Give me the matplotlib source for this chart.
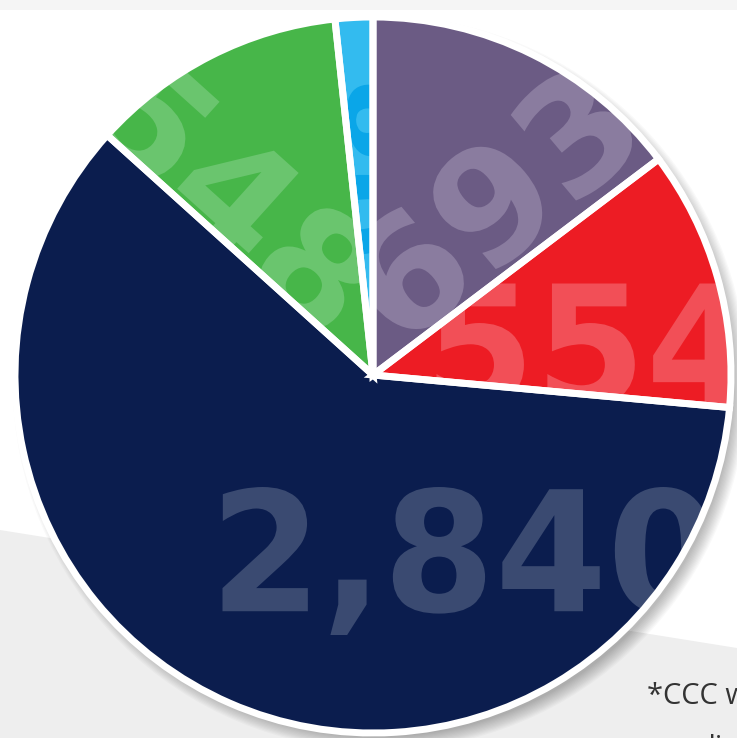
# Pie chart with big clipped numbers inside each slice
import matplotlib.pyplot as plt
from matplotlib.patches import Polygon, Circle, PathPatch, Wedge
from matplotlib.textpath import TextPath
from matplotlib.font_manager import FontProperties
from matplotlib.transforms import Affine2D

# data
labels = ["693", "554", "2,840", "548", "80"]
values = [693, 554, 2840, 548, 80]
colors = ["#6b5b84", "#ed1c24", "#0b1d4e", "#47b649", "#33bbef"]
text_colors = ["#8a7c9f", "#f24f57", "#3a4a71", "#6ac56e", "#0aa6e8"]

W, H = 737, 738
CX, CY, R = 373, 375, 358   # pie center / radius in pixels

fig = plt.figure(figsize=(W / 100, H / 100), dpi=100)
fig.patch.set_facecolor("white")

# light grey floor behind the pie
bg = fig.add_axes([0, 0, 1, 1])
bg.set_xlim(0, W)
bg.set_ylim(H, 0)
bg.axis("off")
bg.add_patch(Polygon([(0, 530), (737, 648), (737, 738), (0, 738)],
                     closed=True, color="#eeeeee", lw=0))
bg.add_patch(Polygon([(0, 0), (737, 0), (737, 10), (0, 10)],
                     closed=True, color="#f5f5f5", lw=0))
# soft shadow, mostly to the lower right
for k in range(12):
    bg.add_patch(Circle((CX + 7, CY + 8), R - 4 + k * 1.2, color="black",
                        alpha=0.025, lw=0))

bg.text(647, 697, "*CCC w", fontsize=21, color="#333333",
        family="Open Sans", va="center", ha="left")
bg.text(697, 748, "di", fontsize=21, color="#333333",
        family="Open Sans", va="center", ha="left")

# pie axes
ax = fig.add_axes([(CX - R) / W, (H - CY - R) / H, 2 * R / W, 2 * R / H])
wedges, _ = ax.pie(values, colors=colors, startangle=90, counterclock=False,
                   radius=1, wedgeprops=dict(edgecolor="white", linewidth=5))
ax.set_xlim(-1, 1)
ax.set_ylim(-1, 1)
ax.axis("off")

# big numbers, drawn as paths so they can be clipped to their slice
# (ink center x, y in px, ink width, ink height, rotation)
label_box = [(490, 203, 310, 118, 40),
             (593, 345, 313, 123, 0),
             (467, 561, 489, 148, 0),
             (238, 195, 310, 118, -42),
             (352, 170, 170, 95, -83)]
fp = FontProperties(family="DejaVu Sans", weight="bold")
for w, lab, tc, (x, y, bw, bh, rot) in zip(wedges, labels, text_colors, label_box):
    tp = TextPath((0, 0), lab, size=1, prop=fp)
    ext = tp.get_extents()
    tr = (Affine2D()
          .translate(-(ext.x0 + ext.x1) / 2, -(ext.y0 + ext.y1) / 2)
          .scale(bw / ext.width / R, bh / ext.height / R)
          .rotate_deg(rot)
          .translate((x - CX) / R, (CY - y) / R))
    p = PathPatch(tr.transform_path(tp), facecolor=tc, lw=0, zorder=3)
    ax.add_patch(p)
    p.set_clip_path(w)

# fill below the numbers, white separators on top of them
for w, c in zip(wedges, colors):
    w.set_zorder(4)
    w.set_facecolor("none")
    ax.add_patch(Wedge((0, 0), 1, w.theta1, w.theta2,
                       facecolor=c, lw=0, zorder=2))

fig.savefig("out.png", dpi=100)
